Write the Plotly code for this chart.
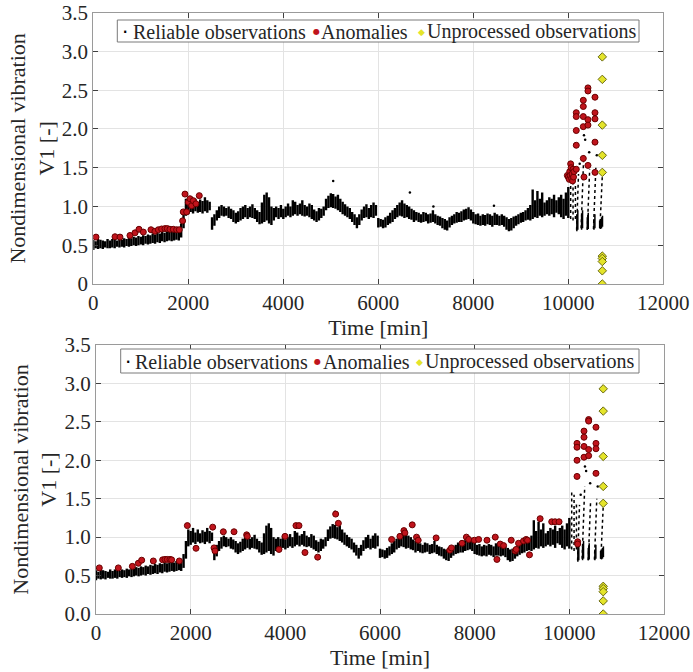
import plotly.graph_objects as go

# ---------------- data ----------------
band_t = [0, 50, 100, 150, 200, 250, 300, 350, 400, 450,
          500, 550, 600, 650, 700, 750, 800, 850, 900, 950,
          1000, 1050, 1100, 1150, 1200, 1250, 1300, 1350, 1400, 1450,
          1500, 1550, 1600, 1650, 1700, 1750, 1800, 1850, 1900, 1950,
          2000, 2050, 2100, 2150, 2200, 2250, 2300, 2350, 2400, 2450,
          2500, 2550, 2600, 2650, 2700, 2750, 2800, 2850, 2900, 2950,
          3000, 3050, 3100, 3150, 3200, 3250, 3300, 3350, 3400, 3450,
          3500, 3550, 3600, 3650, 3700, 3750, 3800, 3850, 3900, 3950,
          4000, 4050, 4100, 4150, 4200, 4250, 4300, 4350, 4400, 4450,
          4500, 4550, 4600, 4650, 4700, 4750, 4800, 4850, 4900, 4950,
          5000, 5050, 5100, 5150, 5200, 5250, 5300, 5350, 5400, 5450,
          5500, 5550, 5600, 5650, 5700, 5750, 5800, 5850, 5900, 5950,
          6000, 6050, 6100, 6150, 6200, 6250, 6300, 6350, 6400, 6450,
          6500, 6550, 6600, 6650, 6700, 6750, 6800, 6850, 6900, 6950,
          7000, 7050, 7100, 7150, 7200, 7250, 7300, 7350, 7400, 7450,
          7500, 7550, 7600, 7650, 7700, 7750, 7800, 7850, 7900, 7950,
          8000, 8050, 8100, 8150, 8200, 8250, 8300, 8350, 8400, 8450,
          8500, 8550, 8600, 8650, 8700, 8750, 8800, 8850, 8900, 8950,
          9000, 9050, 9100, 9150, 9200, 9250, 9300, 9350, 9400, 9450,
          9500, 9550, 9600, 9650, 9700, 9750, 9800, 9850, 9900, 9950,
          10000]
band_lo = [0.44, 0.46, 0.45, 0.46, 0.45, 0.47, 0.46, 0.46, 0.47, 0.46,
           0.48, 0.47, 0.48, 0.47, 0.49, 0.48, 0.49, 0.50, 0.49, 0.50,
           0.51, 0.50, 0.52, 0.51, 0.52, 0.53, 0.52, 0.54, 0.53, 0.55,
           0.54, 0.55, 0.56, 0.55, 0.56, 0.57, 0.56, 0.60, 0.72, 0.88,
           0.90, 0.93, 0.91, 0.94, 0.92, 0.93, 0.91, 0.94, 0.92, 0.95,
           0.70, 0.75, 0.82, 0.85, 0.88, 0.87, 0.88, 0.85, 0.84, 0.80,
           0.78, 0.80, 0.82, 0.84, 0.86, 0.84, 0.86, 0.85, 0.84, 0.80,
           0.77, 0.78, 0.80, 0.82, 0.78, 0.76, 0.82, 0.86, 0.84, 0.86,
           0.84, 0.86, 0.88, 0.86, 0.88, 0.90, 0.88, 0.90, 0.88, 0.87,
           0.88, 0.86, 0.84, 0.82, 0.80, 0.82, 0.85, 0.88, 0.95, 0.98,
           0.99, 0.98, 0.97, 0.95, 0.93, 0.90, 0.88, 0.86, 0.84, 0.80,
           0.76, 0.72, 0.76, 0.82, 0.85, 0.86, 0.84, 0.86, 0.85, 0.88,
           0.73, 0.74, 0.72, 0.73, 0.76, 0.78, 0.80, 0.84, 0.86, 0.88,
           0.87, 0.85, 0.86, 0.84, 0.83, 0.80, 0.82, 0.80, 0.79, 0.80,
           0.81, 0.78, 0.79, 0.80, 0.78, 0.76, 0.75, 0.72, 0.70, 0.69,
           0.73, 0.76, 0.78, 0.79, 0.80, 0.80, 0.82, 0.83, 0.84, 0.82,
           0.78, 0.77, 0.76, 0.75, 0.76, 0.75, 0.77, 0.76, 0.74, 0.76,
           0.76, 0.75, 0.76, 0.74, 0.70, 0.68, 0.69, 0.72, 0.75, 0.77,
           0.79, 0.80, 0.82, 0.83, 0.82, 0.84, 0.86, 0.85, 0.88, 0.86,
           0.88, 0.90, 0.88, 0.90, 0.86, 0.92, 0.90, 0.86, 0.84, 0.88,
           0.85]
band_hi = [0.57, 0.55, 0.58, 0.57, 0.56, 0.55, 0.58, 0.56, 0.58, 0.57,
           0.56, 0.58, 0.57, 0.59, 0.58, 0.60, 0.59, 0.61, 0.60, 0.62,
           0.61, 0.63, 0.62, 0.64, 0.63, 0.65, 0.64, 0.66, 0.65, 0.67,
           0.66, 0.67, 0.68, 0.67, 0.69, 0.68, 0.70, 0.78, 0.95, 1.10,
           1.08, 1.12, 1.06, 1.10, 1.05, 1.09, 1.07, 1.12, 1.08, 1.06,
           0.86, 0.90, 0.95, 1.00, 1.02, 1.00, 0.98, 1.00, 0.97, 0.95,
           0.92, 0.94, 0.98, 1.00, 1.02, 0.98, 1.00, 1.03, 0.98, 0.95,
           0.93, 1.05, 1.15, 1.18, 1.12, 1.00, 0.98, 1.00, 0.98, 1.02,
           0.97, 1.00, 1.04, 1.00, 1.08, 1.06, 1.02, 1.04, 1.08, 1.02,
           1.00, 1.04, 1.02, 0.96, 0.94, 0.98, 0.97, 1.00, 1.10, 1.14,
           1.17, 1.16, 1.13, 1.15, 1.10, 1.06, 1.03, 1.00, 0.98, 0.93,
           0.90, 0.86, 0.90, 0.96, 1.00, 1.03, 0.98, 1.02, 1.05, 1.02,
           0.85, 0.84, 0.83, 0.86, 0.88, 0.92, 0.95, 0.98, 1.02, 1.05,
           1.08, 1.04, 1.02, 1.00, 0.97, 0.95, 0.93, 0.92, 0.90, 0.93,
           0.92, 0.90, 0.91, 0.95, 0.90, 0.88, 0.87, 0.85, 0.84, 0.82,
           0.86, 0.88, 0.90, 0.93, 0.92, 0.94, 0.96, 0.97, 0.99, 0.96,
           0.93, 0.90, 0.91, 0.88, 0.90, 0.89, 0.91, 0.90, 0.88, 0.92,
           0.90, 0.88, 0.90, 0.88, 0.86, 0.84, 0.85, 0.87, 0.88, 0.90,
           0.92, 0.93, 0.95, 0.98, 1.02, 1.22, 1.08, 1.20, 1.10, 1.18,
           1.05, 1.08, 1.12, 1.10, 1.15, 1.08, 1.12, 1.15, 1.10, 1.18,
           1.25]

# dense cloud right after 10000 min (differs: anomalies removed in top panel)
cloud_t = [10050, 10100, 10150]
cloud_lo = [0.84, 0.82, 0.84]
cloud_hi_top = [1.32, 1.35, 1.30]
cloud_hi_bottom = [1.58, 1.55, 1.45]

# streak bases and rising streaks (sawtooth) before the stop
base_t = [10180, 10200, 10280, 10300, 10400, 10420, 10540, 10560, 10660, 10680, 10700, 10720]
base_lo = [0.68, 0.70, 0.70, 0.72, 0.70, 0.71, 0.70, 0.72, 0.72, 0.71, 0.72, 0.74]
base_hi = [0.90, 0.95, 0.88, 0.95, 0.86, 0.92, 0.84, 0.90, 0.82, 0.84, 0.86, 0.88]
streak_t0 = [10175, 10270, 10400, 10530, 10665]
streak_v0 = [0.70, 0.72, 0.70, 0.71, 0.72]
streak_t1 = [10215, 10325, 10450, 10580, 10720]
streak_v1 = [1.42, 1.66, 1.48, 1.50, 1.45]

# isolated reliable observations
dot_t = [5050, 6665, 7160, 8435, 10330, 10355, 10240, 10440, 10600]
dot_v = [1.33, 1.18, 1.00, 1.01, 1.92, 1.86, 1.55, 1.70, 1.66]

# anomalies, top panel
anom_top_t = [57, 457, 562, 772, 878, 962, 1053, 1214, 1298, 1369, 1439, 1509, 1558,
              1614, 1684, 1754, 1810, 1880, 1894, 1930, 1965, 2000, 2035, 2070, 2105,
              2161, 2231,
              9980, 10000, 10020, 10030, 10040, 10050, 10060, 10070, 10080, 10090,
              10100, 10110, 10120, 10168, 10330,
              10168, 10168, 10168, 10168, 10316, 10316, 10316, 10316, 10316,
              10414, 10414, 10414, 10414, 10414, 10562, 10562, 10562, 10562, 10562]
anom_top_v = [0.605, 0.61, 0.605, 0.626, 0.66, 0.706, 0.67, 0.70, 0.68, 0.70, 0.71, 0.715, 0.715,
              0.706, 0.706, 0.70, 0.70, 0.815, 0.93, 1.16, 0.93, 1.055, 1.10, 1.01, 1.075,
              1.035, 1.14,
              1.40, 1.38, 1.35, 1.45, 1.40, 1.55, 1.50, 1.36, 1.42, 1.33,
              1.48, 1.38, 1.45, 1.48, 1.38,
              2.21, 2.16, 1.98, 1.79, 2.37, 2.29, 2.16, 2.03, 1.62,
              2.53, 2.49, 2.12, 2.05, 1.53, 2.41, 2.21, 2.13, 1.83, 1.44]

# anomalies, bottom panel
anom_bot_t = [70, 472, 768, 894, 965, 1211, 1408, 1458, 1507, 1563, 1598, 1760,
              1930, 2113, 2465, 2493, 2514, 2690, 2916, 3183, 3197, 3866, 3993,
              4225, 4288, 4415, 4683, 5063, 5120,
              6246, 6421, 6505, 6526, 6681, 6772, 6807, 7186, 7474, 7509, 7733,
              7825, 7874, 7993, 8084, 8260, 8435, 8470, 8540, 8611, 8772, 8856,
              8877, 8927, 9032, 9088, 9116, 9158, 9383, 9628, 9699, 9783,
              10176, 10176,
              10162, 10162, 10162, 10162, 10310, 10310, 10310, 10310,
              10408, 10408, 10408, 10408, 10563, 10563, 10563, 10563]
anom_bot_v = [0.60, 0.60, 0.62, 0.66, 0.70, 0.69, 0.705, 0.71, 0.71, 0.71, 0.705, 0.69,
              1.15, 0.855, 1.13, 0.86, 0.82, 1.07, 1.07, 1.03, 1.01, 0.84, 1.01,
              1.15, 1.15, 0.80, 0.74, 1.30, 1.18,
              0.97, 1.01, 1.085, 1.055, 1.16, 1.00, 0.96, 0.99, 0.83, 0.86, 0.92,
              1.00, 0.97, 0.96, 0.97, 0.96, 1.00, 0.71, 0.91, 0.89, 0.96, 0.82,
              0.84, 0.92, 0.95, 0.97, 0.96, 0.77, 1.24, 1.20, 1.20, 1.20,
              0.94, 0.91,
              2.22, 2.17, 2.00, 1.79, 2.38, 2.30, 2.18, 2.04,
              2.53, 2.51, 2.14, 2.06, 2.43, 2.22, 2.15, 1.83]

# unprocessed observations (same in both panels)
unproc_t = [10716, 10716, 10716, 10716, 10716, 10716, 10716, 10716, 10716, 10716]
unproc_v = [2.93, 2.64, 2.05, 1.66, 1.44, 0.36, 0.33, 0.29, 0.17, 0.0]

series_names = ["Reliable observations", "Anomalies", "Unprocessed observations"]

x_ticks = [0, 2000, 4000, 6000, 8000, 10000, 12000]
x_ticktext = ["0", "2000", "4000", "6000", "8000", "10000", "12000"]
y_ticks = [0, 0.5, 1.0, 1.5, 2.0, 2.5, 3.0, 3.5]
y_ticktext_top = ["0", "0.5", "1.0", "1.5", "2.0", "2.5", "3.0", "3.5"]
y_ticktext_bottom = ["0.0", "0.5", "1.0", "1.5", "2.0", "2.5", "3.0", "3.5"]

# ---------------- figure ----------------
FONT = "Times New Roman, Liberation Serif, serif"
TXT = "#262626"
RED, RED_EDGE = "#c0141c", "#6a0000"
YEL, YEL_EDGE = "#e4e42a", "#6a6a10"
OFF = 0                    # page body margin is removed by the post script
W, H = 693 - OFF, 672 - OFF


def px_x(p):
    return (p - OFF) / W


def px_y(p):
    return 1 - (p - OFF) / H


def segs(ts, los, his):
    xs, ys = [], []
    for t, lo, hi in zip(ts, los, his):
        xs += [t, t, None]
        ys += [lo, hi, None]
    return xs, ys


def lines(t0, v0, t1, v1):
    xs, ys = [], []
    for a, b, c, d in zip(t0, v0, t1, v1):
        xs += [a, c, None]
        ys += [b, d, None]
    return xs, ys


fig = go.Figure()

panels = [
    ("x", "y", cloud_hi_top, anom_top_t, anom_top_v),
    ("x2", "y2", cloud_hi_bottom, anom_bot_t, anom_bot_v),
]
for xa, ya, cloud_hi, at, av in panels:
    fig.add_trace(go.Scatter(x=dot_t, y=dot_v, mode="markers", xaxis=xa, yaxis=ya,
                             marker=dict(color="black", size=2.5),
                             name=series_names[0], showlegend=False))
    bx, by = segs(band_t, band_lo, band_hi)
    fig.add_trace(go.Scatter(x=bx, y=by, mode="lines", xaxis=xa, yaxis=ya,
                             line=dict(color="black", width=2.4), name=series_names[0],
                             showlegend=False, hoverinfo="skip"))
    cx, cy = segs(cloud_t, cloud_lo, cloud_hi)
    fig.add_trace(go.Scatter(x=cx, y=cy, mode="lines", xaxis=xa, yaxis=ya,
                             line=dict(color="black", width=1.5, dash="dot"),
                             name=series_names[0], showlegend=False, hoverinfo="skip"))
    gx, gy = segs(base_t, base_lo, base_hi)
    fig.add_trace(go.Scatter(x=gx, y=gy, mode="lines", xaxis=xa, yaxis=ya,
                             line=dict(color="black", width=1.5),
                             name=series_names[0], showlegend=False, hoverinfo="skip"))
    sx, sy = lines(streak_t0, streak_v0, streak_t1, streak_v1)
    fig.add_trace(go.Scatter(x=sx, y=sy, mode="lines", xaxis=xa, yaxis=ya,
                             line=dict(color="black", width=1.5, dash="dot"),
                             name=series_names[0], showlegend=False, hoverinfo="skip"))
    fig.add_trace(go.Scatter(x=at, y=av, mode="markers", xaxis=xa, yaxis=ya,
                             marker=dict(color=RED, size=6, line=dict(color=RED_EDGE, width=1)),
                             name=series_names[1], showlegend=False))
    fig.add_trace(go.Scatter(x=unproc_t, y=unproc_v, mode="markers", xaxis=xa, yaxis=ya,
                             marker=dict(color=YEL, size=6.5, symbol="diamond",
                                         line=dict(color=YEL_EDGE, width=1)),
                             name=series_names[2], showlegend=False))

# compact MATLAB-style legends (box + symbol glyphs + labels)
shapes, annotations = [], []
legend_boxes = [
    # box left, right, top, bottom, symbol x's, label x's, text centre y
    (117.3, 639, 20, 42, [124.5, 316, 421.5], [132.5, 321, 426.5], 31.5),
    (120.7, 639, 349, 373, [128.3, 317.5, 419.5], [135, 322.5, 425], 361.5),
]
glyphs = [("\u00b7", "black", 20), ("\u25cf", RED, 8), ("\u25c6", YEL, 9)]
for bl, br, bt, bb, sxs, lxs, cy in legend_boxes:
    shapes.append(dict(type="rect", xref="paper", yref="paper",
                       x0=px_x(bl), x1=px_x(br), y0=px_y(bb), y1=px_y(bt),
                       line=dict(color="#7a7a7a", width=1), fillcolor="white",
                       layer="above"))
    for (g, col, gs), sx_, lx_, name in zip(glyphs, sxs, lxs, series_names):
        annotations.append(dict(xref="paper", yref="paper", x=px_x(sx_), y=px_y(cy),
                                text=g, showarrow=False, xanchor="center", yanchor="middle",
                                font=dict(family="DejaVu Sans", size=gs, color=col)))
        annotations.append(dict(xref="paper", yref="paper", x=px_x(lx_), y=px_y(cy),
                                text=name, showarrow=False, xanchor="left", yanchor="middle",
                                xshift=-2,
                                font=dict(family=FONT, size=20, color=TXT)))

axis_common = dict(
    showline=True, linecolor="#9a9a9a", linewidth=1, mirror="ticks",
    ticks="inside", ticklen=5, tickcolor="#404040",
    showgrid=True, gridcolor="#e3e3e3", gridwidth=1, zeroline=False,
    automargin=False, ticklabeloverflow="allow",
    tickfont=dict(family=FONT, size=21, color=TXT),
)
title_font = dict(family=FONT, size=22, color=TXT)

fig.update_layout(
    width=W, height=H, autosize=False,
    margin=dict(l=0, r=0, t=0, b=0, autoexpand=False),
    paper_bgcolor="white", plot_bgcolor="white",
    font=dict(family=FONT, color=TXT),
    showlegend=False,
    hovermode=False,
    xaxis=dict(domain=[px_x(93.3), px_x(663.3)], anchor="y", range=[0, 12000],
               tickvals=x_ticks, ticktext=x_ticktext,
               title=dict(text="Time [min]", font=title_font, standoff=1),
               **axis_common),
    yaxis=dict(domain=[px_y(284), px_y(12.7)], anchor="x", range=[0, 3.5],
               tickvals=y_ticks, ticktext=y_ticktext_top,
               title=dict(text="Nondimensional vibration<br>V1 [-]",
                          font=title_font, standoff=1),
               **axis_common),
    xaxis2=dict(domain=[px_x(96), px_x(664)], anchor="y2", range=[0, 12000],
                tickvals=x_ticks, ticktext=x_ticktext,
                title=dict(text="Time [min]", font=title_font, standoff=1),
                **axis_common),
    yaxis2=dict(domain=[px_y(614), px_y(345)], anchor="x2", range=[0, 3.5],
                tickvals=y_ticks, ticktext=y_ticktext_bottom,
                title=dict(text="Nondimensional vibration<br>V1 [-]",
                           font=title_font, standoff=1),
                **axis_common),
    shapes=shapes,
    annotations=annotations,
)

fig.write_html("out.html",
               config={"displayModeBar": False},
               post_script="document.body.style.margin='0';"
                           "document.body.style.overflow='hidden';")
